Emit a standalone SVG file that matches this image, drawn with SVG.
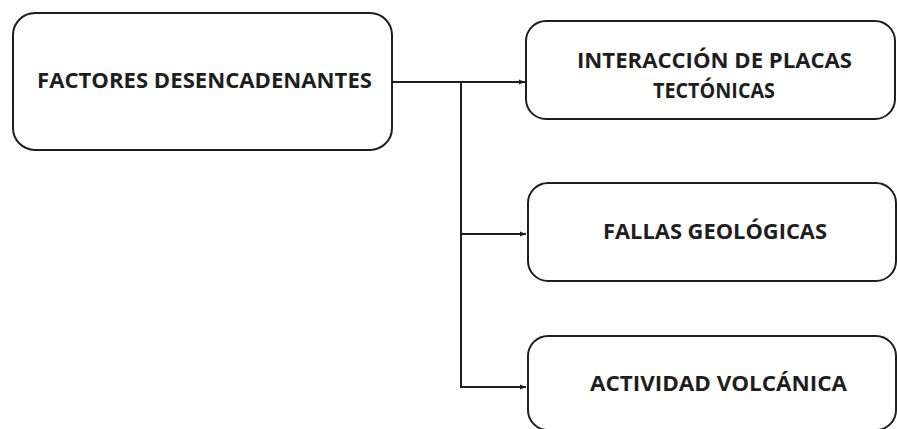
<svg xmlns="http://www.w3.org/2000/svg" width="897" height="429" viewBox="0 0 897 429">
<style>
.box{fill:#fff;stroke:#1e1e1e;stroke-width:2}
.lbl{font-family:"Open Sans","Liberation Sans",sans-serif;font-weight:bold;font-size:22px;fill:#1e1e1e;text-anchor:middle}
.con{fill:none;stroke:#1e1e1e;stroke-width:2}
</style>
<defs>
<marker id="ah" viewBox="0 0 10 10" refX="10" refY="5" markerWidth="6" markerHeight="6" orient="auto" markerUnits="userSpaceOnUse">
<path d="M0,1 L10,5 L0,9 z" fill="#1e1e1e"/>
</marker>
</defs>
<rect width="897" height="429" fill="#fff"/>
<g id="connectors">
<path class="con" d="M392,82 H525" marker-end="url(#ah)"/>
<path class="con" d="M461,82 V387 H526" marker-end="url(#ah)"/>
<path class="con" d="M461,234 H526" marker-end="url(#ah)"/>
</g>
<g id="node-factores">
<rect class="box" x="13" y="13" width="379" height="137" rx="22"/>
<text class="lbl" x="204.5" y="87.5" textLength="335" lengthAdjust="spacingAndGlyphs">FACTORES DESENCADENANTES</text>
</g>
<g id="node-placas">
<rect class="box" x="526" y="21" width="369" height="98" rx="20"/>
<text class="lbl" x="714.5" y="67.5" textLength="275" lengthAdjust="spacingAndGlyphs">INTERACCIÓN DE PLACAS</text>
<text class="lbl" x="714" y="97.5" textLength="122" lengthAdjust="spacingAndGlyphs">TECTÓNICAS</text>
</g>
<g id="node-fallas">
<rect class="box" x="528" y="183" width="368" height="98" rx="20"/>
<text class="lbl" x="715" y="238.5" textLength="224" lengthAdjust="spacingAndGlyphs">FALLAS GEOLÓGICAS</text>
</g>
<g id="node-volcanica">
<rect class="box" x="528" y="336" width="368" height="94" rx="20"/>
<text class="lbl" x="718.5" y="390.5" textLength="257" lengthAdjust="spacingAndGlyphs">ACTIVIDAD VOLCÁNICA</text>
</g>
</svg>
